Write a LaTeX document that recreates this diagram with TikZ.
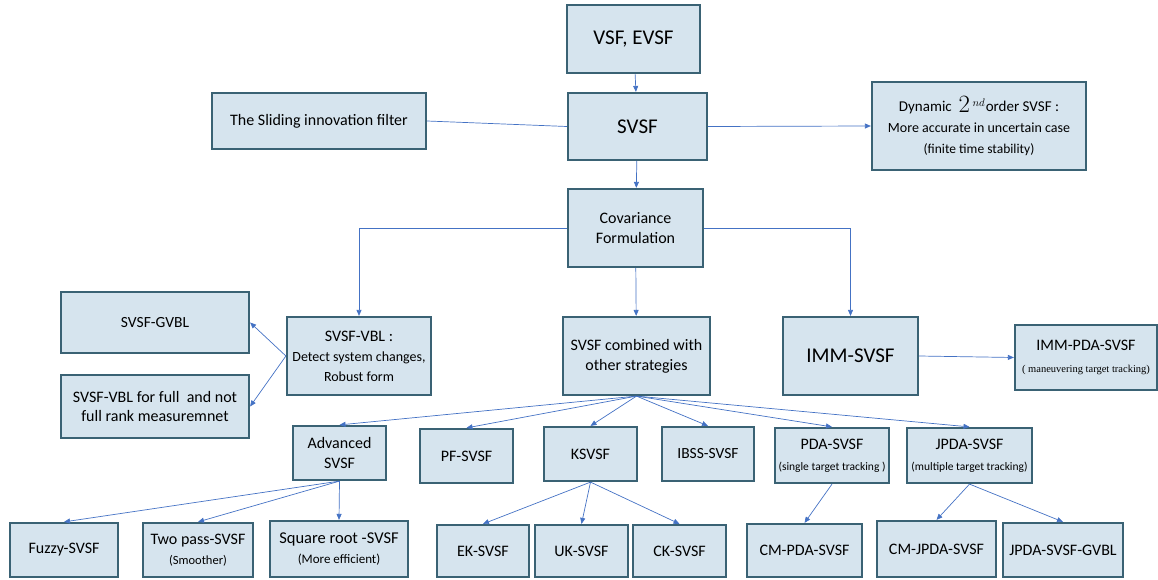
\documentclass[tikz,border=0pt]{standalone}
\usepackage{fontspec}
\setmainfont{Carlito}
\newfontfamily\timesfont{Liberation Serif}
\usetikzlibrary{arrows.meta}
\definecolor{boxfill}{RGB}{214,228,238}
\definecolor{boxline}{RGB}{58,98,116}
\definecolor{arrowblue}{RGB}{68,114,196}
\newcommand{\fsz}[1]{\fontsize{#1}{#1}\selectfont}

\begin{document}
\begin{tikzpicture}[x=1pt,y=-1pt]
\tikzset{
  fbox/.style={draw=boxline,fill=boxfill,line width=2.2pt,align=center,inner sep=1pt,font=\fsz{16}},
  bigtext/.style={font=\fsz{21}},
  directed/.style={-{Triangle[length=6pt,width=5pt]},draw=arrowblue,line width=0.7pt},
  undirected/.style={draw=arrowblue,line width=0.7pt}
}
\useasboundingbox (0,0) rectangle (1158,580);
% top part
\node[fbox,bigtext,minimum width=133pt,minimum height=68pt] (n_vsf) at (633.5,39) {VSF, EVSF};
\node[fbox,bigtext,minimum width=139pt,minimum height=67pt] (n_svsf) at (637.5,126.5) {SVSF};
\node[fbox,minimum width=214pt,minimum height=56pt] (n_sif) at (319,121) {The Sliding innovation filter};
\node[fbox,minimum width=214pt,minimum height=88pt] (n_dyn) at (979,126)
  {\fsz{15}Dynamic\ \ \raisebox{-1pt}{\fsz{25}$2$}\,$^{\fsz{12}nd}$\hspace{0.5pt}order SVSF :\\[5pt]
   \fsz{14}More accurate in uncertain case\\[5pt]
   \fsz{13.5}(finite time stability)};
\node[fbox,minimum width=135pt,minimum height=78pt] (n_cov) at (635.5,228) {Covariance\\[4pt]Formulation};
% second level
\node[fbox,font=\fsz{15.5},minimum width=188pt,minimum height=61pt] (n_gvbl) at (155,322.5) {SVSF-GVBL};
\node[fbox,minimum width=188pt,minimum height=63pt] (n_vblfull) at (155,406.5) {SVSF-VBL for full\ \ and not\\[4pt]full rank measuremnet};
\node[fbox,minimum width=144pt,minimum height=78pt] (n_vbl) at (359,356)
  {SVSF-VBL :\\[4pt]\fsz{14}Detect system changes,\\[4pt]\fsz{14}Robust form};
\node[fbox,minimum width=147pt,minimum height=78pt] (n_comb) at (636.5,356) {SVSF combined with\\[4pt]other strategies};
\node[fbox,bigtext,minimum width=135pt,minimum height=78pt] (n_imm) at (850.5,356) {IMM-SVSF};
\node[fbox,minimum width=142pt,minimum height=65pt] (n_immpda) at (1086,357.5)
  {IMM-PDA-SVSF\\[6pt]{\timesfont\fsz{10.5}( maneuvering target tracking)}};
% third level
\node[fbox,minimum width=93pt,minimum height=54pt] (n_adv) at (339.5,453) {Advanced\\[4pt]SVSF};
\node[fbox,minimum width=93pt,minimum height=54pt] (n_pf) at (466.5,456) {PF-SVSF};
\node[fbox,minimum width=93pt,minimum height=54pt] (n_ksvsf) at (590.5,454) {KSVSF};
\node[fbox,font=\fsz{15.5},minimum width=92pt,minimum height=54pt] (n_ibss) at (708,454) {IBSS-SVSF};
\node[fbox,minimum width=114pt,minimum height=55pt] (n_pda) at (832,455.5)
  {PDA-SVSF\\[5pt]\fsz{11.5}(single target tracking )};
\node[fbox,minimum width=125pt,minimum height=55pt] (n_jpda) at (969.5,455.5)
  {JPDA-SVSF\\[5pt]\fsz{11.5}(multiple target tracking)};
% bottom row
\node[fbox,minimum width=108pt,minimum height=54pt] (n_fuzzy) at (64,550) {Fuzzy-SVSF};
\node[fbox,minimum width=110pt,minimum height=54pt] (n_twopass) at (198,550) {Two pass-SVSF\\[4pt]\fsz{12.5}(Smoother)};
\node[fbox,font=\fsz{16.5},minimum width=138pt,minimum height=56pt] (n_sqrt) at (339,549) {Square root -SVSF\\[4pt]\fsz{13}(More efficient)};
\node[fbox,minimum width=92pt,minimum height=52pt] (n_ek) at (483,551) {EK-SVSF};
\node[fbox,minimum width=93pt,minimum height=52pt] (n_uk) at (581.5,551) {UK-SVSF};
\node[fbox,minimum width=93pt,minimum height=52pt] (n_ck) at (679.5,551) {CK-SVSF};
\node[fbox,minimum width=115pt,minimum height=53pt] (n_cmpda) at (804.5,550.5) {CM-PDA-SVSF};
\node[fbox,minimum width=119pt,minimum height=56pt] (n_cmjpda) at (936.5,549) {CM-JPDA-SVSF};
\node[fbox,minimum width=120pt,minimum height=54pt] (n_jgvbl) at (1063,550) {JPDA-SVSF-GVBL};
% connectors
\draw[directed] (n_vsf) -- (n_svsf);
\draw[undirected] (n_sif.east) -- (n_svsf.west);
\draw[directed] (n_svsf.east) -- (n_dyn.west);
\draw[directed] (n_svsf) -- (n_cov);
\draw[directed] (n_cov.west) -| (n_vbl.north);
\draw[directed] (n_cov) -- (n_comb);
\draw[directed] (n_cov.east) -| (n_imm.north);
\draw[directed] (n_imm.east) -- (n_immpda.west);
\draw[directed] (n_vbl.west) -- (n_gvbl.east);
\draw[directed] (n_vbl.west) -- (n_vblfull.east);
\foreach \child in {n_adv,n_pf,n_ksvsf,n_ibss,n_pda,n_jpda}
  \draw[directed] (n_comb.south) -- (\child.north);
\foreach \child in {n_fuzzy,n_twopass,n_sqrt}
  \draw[directed] (n_adv.south) -- (\child.north);
\foreach \child in {n_ek,n_uk,n_ck}
  \draw[directed] (n_ksvsf.south) -- (\child.north);
\draw[directed] (n_pda.south) -- (n_cmpda.north);
\draw[directed] (n_jpda.south) -- (n_cmjpda.north);
\draw[directed] (n_jpda.south) -- (n_jgvbl.north);
\end{tikzpicture}
\end{document}
